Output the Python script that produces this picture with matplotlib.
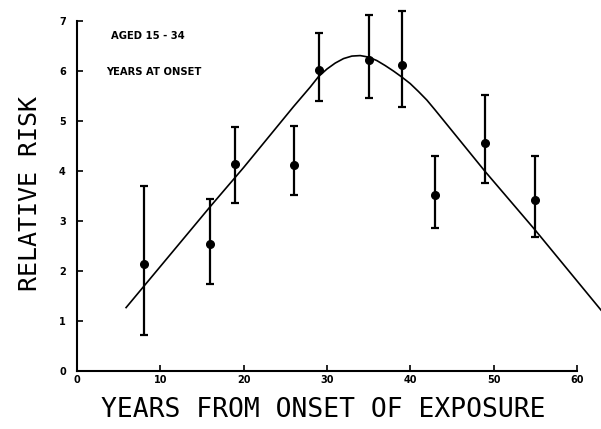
import matplotlib
matplotlib.use("Agg")
import matplotlib.pyplot as plt

# Observed data (years from onset, relative risk, CI)
years = [8, 16, 19, 26, 29, 35, 39, 43, 49, 55]
risk = [2.15, 2.55, 4.15, 4.13, 6.03, 6.22, 6.13, 3.53, 4.56, 3.42]
ci_low = [0.72, 1.74, 3.37, 3.52, 5.40, 5.47, 5.29, 2.87, 3.76, 2.69]
ci_high = [3.70, 3.44, 4.89, 4.90, 6.77, 7.12, 7.20, 4.30, 5.52, 4.30]

# Fitted curve
fit_x = [5.9, 16, 20, 26, 28, 29, 30, 31, 32, 33, 34, 35, 36, 37, 38, 39, 40, 41, 42, 43, 49, 55, 62.9]
fit_y = [1.27, 3.29, 4.07, 5.29, 5.68, 5.89, 6.04, 6.16, 6.25, 6.30, 6.31, 6.28, 6.21, 6.11,
         6.00, 5.88, 5.75, 5.59, 5.42, 5.22, 3.99, 2.82, 1.22]

x_ticks = [0, 10, 20, 30, 40, 50, 60]
y_ticks = [0, 1, 2, 3, 4, 5, 6, 7]

fig = plt.figure(figsize=(6.01, 4.29), dpi=100)
ax = fig.add_axes([0.128, 0.135, 0.872, 0.845])

ax.plot(fit_x, fit_y, color="black", lw=1.2, clip_on=False)

err_lo = [r - l for r, l in zip(risk, ci_low)]
err_hi = [h - r for r, h in zip(risk, ci_high)]
ax.errorbar(years, risk, yerr=[err_lo, err_hi], fmt="o", color="black",
            ms=5.5, elinewidth=1.6, capsize=3, capthick=1.6, clip_on=False)

ax.set_xlim(0, 62.9)
ax.set_ylim(0, 7.25)
ax.spines["top"].set_visible(False)
ax.spines["right"].set_visible(False)
ax.spines["left"].set_bounds(0, 7)
ax.spines["bottom"].set_bounds(0, 60)
for s in ("left", "bottom"):
    ax.spines[s].set_linewidth(1.5)

ax.set_xticks(x_ticks)
ax.set_yticks(y_ticks)
ax.tick_params(axis="both", direction="in", length=4, width=1.2,
               labelsize=7)
ax.tick_params(axis="y", pad=8)
ax.tick_params(axis="x", pad=3)
for lab in ax.get_xticklabels() + ax.get_yticklabels():
    lab.set_fontweight("bold")

fig.text(0.538, 0.045, "YEARS FROM ONSET OF EXPOSURE", family="DejaVu Sans Mono",
         fontsize=19, ha="center", va="center")
fig.text(0.05, 0.55, "RELATIVE RISK", family="DejaVu Sans Mono",
         fontsize=18, rotation=90, ha="center", va="center")

ax.text(0.185, 0.915, "AGED 15 - 34", transform=fig.transFigure, fontsize=7.2,
        fontweight="bold", ha="left", va="center")
ax.text(0.176, 0.833, "YEARS AT ONSET", transform=fig.transFigure, fontsize=7.2,
        fontweight="bold", ha="left", va="center")

fig.savefig("out.png", dpi=100)
